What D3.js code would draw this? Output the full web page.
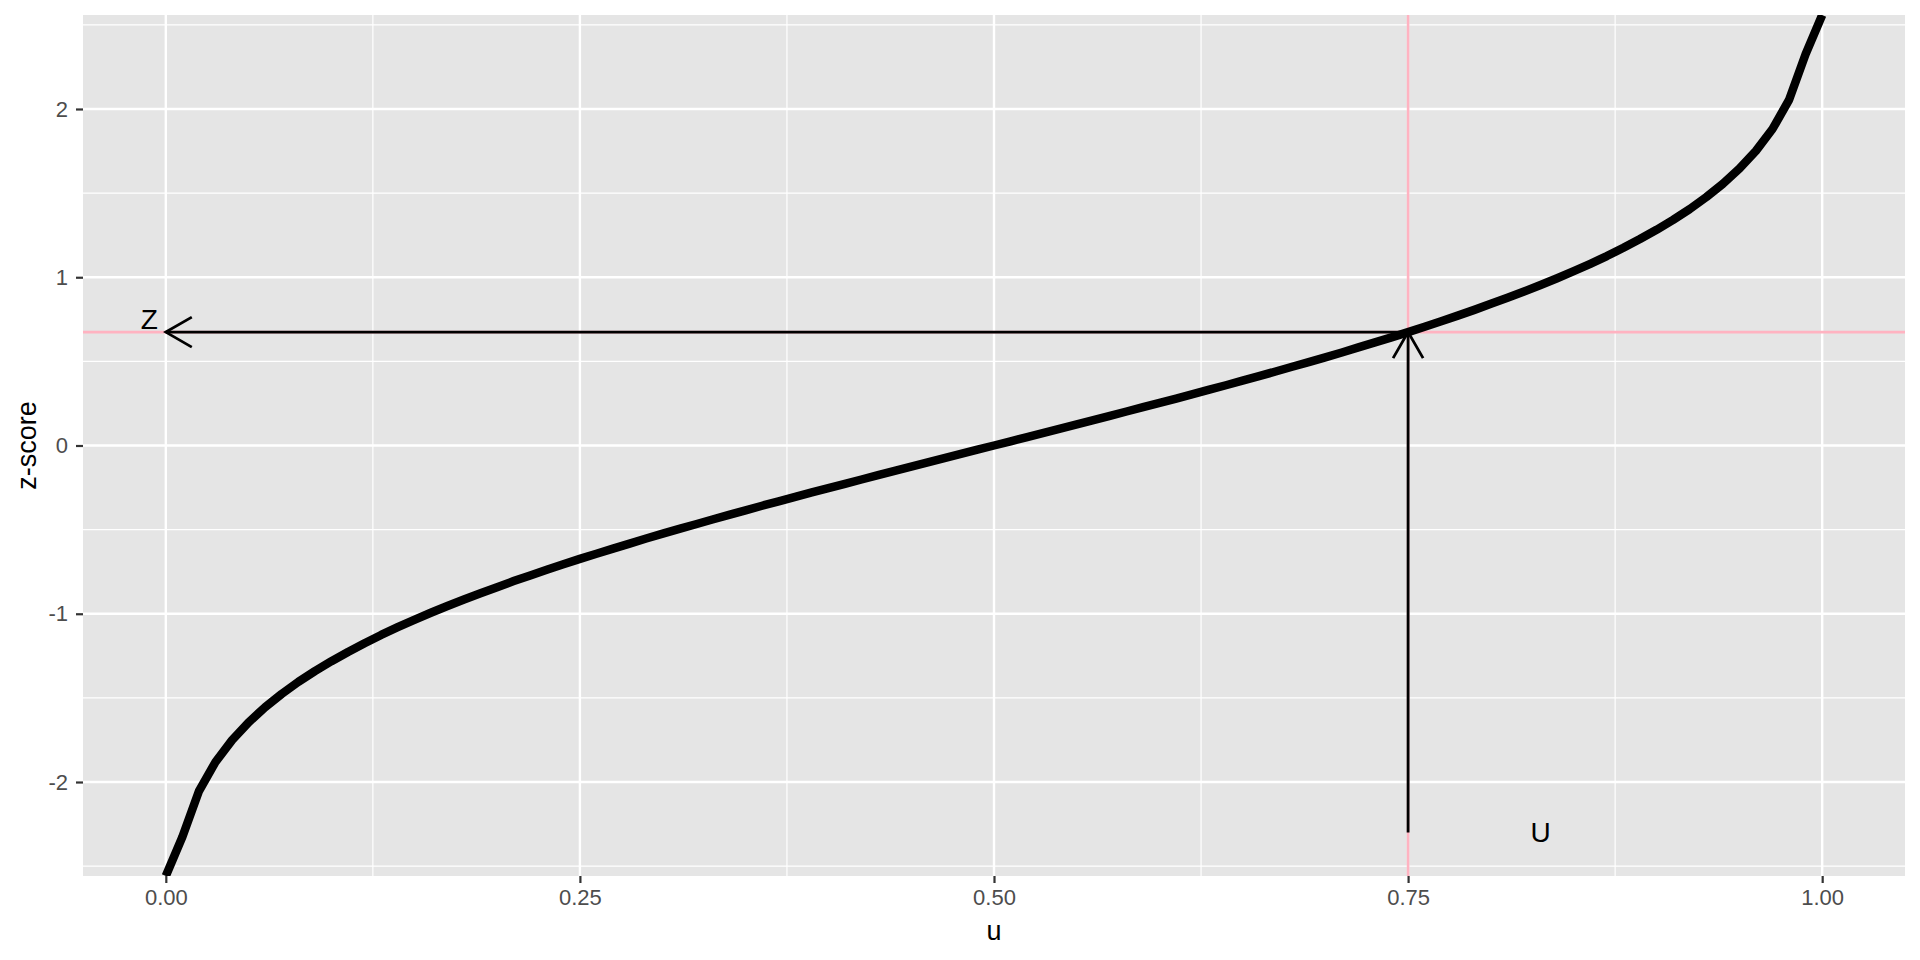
<!DOCTYPE html>
<html><head><meta charset="utf-8">
<script src="https://cdn.jsdelivr.net/npm/d3@7"></script>
<style>body{margin:0;background:#fff}svg text{font-family:"Liberation Sans",Arial,Helvetica,sans-serif}</style>
</head><body><svg id="c" width="1920" height="960"></svg>
<script>
// u values, step 0.01 from 0 to 1
const uValues = d3.range(0, 101).map(i => i / 100);
// z-score (ends run off the panel)
const zValues = [-Infinity,
 -2.326,-2.054,-1.881,-1.751,-1.645,-1.555,-1.476,-1.405,-1.341,-1.282,
 -1.227,-1.175,-1.126,-1.080,-1.036,-0.994,-0.954,-0.915,-0.878,-0.842,
 -0.806,-0.772,-0.739,-0.706,-0.674,-0.643,-0.613,-0.583,-0.553,-0.524,
 -0.496,-0.468,-0.440,-0.412,-0.385,-0.358,-0.332,-0.305,-0.279,-0.253,
 -0.228,-0.202,-0.176,-0.151,-0.126,-0.100,-0.075,-0.050,-0.025,0.000,
 0.025,0.050,0.075,0.100,0.126,0.151,0.176,0.202,0.228,0.253,
 0.279,0.305,0.332,0.358,0.385,0.412,0.440,0.468,0.496,0.524,
 0.553,0.583,0.613,0.643,0.674,0.706,0.739,0.772,0.806,0.842,
 0.878,0.915,0.954,0.994,1.036,1.080,1.126,1.175,1.227,1.282,
 1.341,1.405,1.476,1.555,1.645,1.751,1.881,2.054,2.326,
 Infinity];
const xTicks = [0, 0.25, 0.5, 0.75, 1];
const xTickLabels = ["0.00", "0.25", "0.50", "0.75", "1.00"];
const xMinor = [0.125, 0.375, 0.625, 0.875];
const yTicks = [-2, -1, 0, 1, 2];
const yTickLabels = ["-2", "-1", "0", "1", "2"];
const yMinor = [-2.5, -1.5, -0.5, 0.5, 1.5, 2.5];
const uMark = [0.75];
const zMark = [0.674];
const arrowStartZ = [-2.3];
const labelU = {x: 0.83, y: -2.3, text: "U"};
const labelZ = {x: -0.01, y: 0.75, text: "Z"};

const L = 83, R = 1905, T = 15, B = 876;
const svg = d3.select("#c");
const x = d3.scaleLinear().domain([-0.05, 1.05]).range([L, R]);
const y = d3.scaleLinear().domain([-2.5586, 2.5586]).range([B, T]);

svg.append("rect").attr("x", L).attr("y", T).attr("width", R - L).attr("height", B - T).attr("fill", "#E5E5E5");
svg.append("defs").append("clipPath").attr("id", "clip").append("rect")
  .attr("x", L).attr("y", T).attr("width", R - L).attr("height", B - T);

const g = svg.append("g");
// minor grid
g.selectAll(".xm").data(xMinor).enter().append("line")
  .attr("x1", d => x(d)).attr("x2", d => x(d)).attr("y1", T).attr("y2", B)
  .attr("stroke", "#fff").attr("stroke-width", 1.2);
g.selectAll(".ym").data(yMinor).enter().append("line")
  .attr("y1", d => y(d)).attr("y2", d => y(d)).attr("x1", L).attr("x2", R)
  .attr("stroke", "#fff").attr("stroke-width", 1.2);
// major grid
g.selectAll(".xM").data(xTicks).enter().append("line")
  .attr("x1", d => x(d)).attr("x2", d => x(d)).attr("y1", T).attr("y2", B)
  .attr("stroke", "#fff").attr("stroke-width", 2.4);
g.selectAll(".yM").data(yTicks).enter().append("line")
  .attr("y1", d => y(d)).attr("y2", d => y(d)).attr("x1", L).attr("x2", R)
  .attr("stroke", "#fff").attr("stroke-width", 2.4);

const pc = svg.append("g").attr("clip-path", "url(#clip)");
// pink reference lines
pc.append("line").attr("x1", L).attr("x2", R).attr("y1", y(zMark[0])).attr("y2", y(zMark[0]))
  .attr("stroke", "#FFB3C1").attr("stroke-width", 2.6);
pc.append("line").attr("y1", T).attr("y2", B).attr("x1", x(uMark[0])).attr("x2", x(uMark[0]))
  .attr("stroke", "#FFB3C1").attr("stroke-width", 2.6);

// curve
const data = uValues.map((u, i) => ({u, z: zValues[i]}));
const yc = v => v === Infinity ? T : v === -Infinity ? B : y(v);
pc.append("path").datum(data)
  .attr("d", d3.line().x(d => x(d.u)).y(d => yc(d.z)))
  .attr("fill", "none").attr("stroke", "#000").attr("stroke-width", 8.5).attr("stroke-linejoin", "round");

// arrows
function arrow(x1, y1, x2, y2) {
  pc.append("line").attr("x1", x1).attr("y1", y1).attr("x2", x2).attr("y2", y2)
    .attr("stroke", "#000").attr("stroke-width", 2.8);
  const ang = Math.atan2(y1 - y2, x1 - x2), len = 30, a = Math.PI / 6;
  const p = [[x2 + len * Math.cos(ang + a), y2 + len * Math.sin(ang + a)], [x2, y2],
             [x2 + len * Math.cos(ang - a), y2 + len * Math.sin(ang - a)]];
  pc.append("path").attr("d", d3.line()(p)).attr("fill", "none")
    .attr("stroke", "#000").attr("stroke-width", 2.8);
}
arrow(x(uMark[0]), y(zMark[0]), x(0), y(zMark[0]));
arrow(x(uMark[0]), y(arrowStartZ[0]), x(uMark[0]), y(zMark[0]));

// labels
[labelU, labelZ].forEach(l => {
  svg.append("text").attr("x", x(l.x)).attr("y", y(l.y)).attr("text-anchor", "middle")
    .attr("dominant-baseline", "central").attr("font-size", 28).attr("fill", "#000").text(l.text);
});

// axes
const xa = svg.append("g").attr("transform", `translate(0,${B})`)
  .call(d3.axisBottom(x).tickValues(xTicks).tickFormat((d, i) => xTickLabels[i]).tickSize(7).tickPadding(6));
const ya = svg.append("g").attr("transform", `translate(${L},0)`)
  .call(d3.axisLeft(y).tickValues(yTicks).tickFormat((d, i) => yTickLabels[i]).tickSize(7).tickPadding(8));
[xa, ya].forEach(a => {
  a.select(".domain").remove();
  a.selectAll(".tick line").attr("stroke", "#333").attr("stroke-width", 2.2);
  a.selectAll(".tick text").attr("fill", "#4D4D4D").attr("font-size", 22);
});

svg.append("text").attr("x", (L + R) / 2).attr("y", 940).attr("text-anchor", "middle")
  .attr("font-size", 27).attr("fill", "#000").text("u");
svg.append("text").attr("transform", `translate(36,${(T + B) / 2}) rotate(-90)`).attr("text-anchor", "middle")
  .attr("font-size", 27).attr("fill", "#000").text("z-score");
</script></body></html>
